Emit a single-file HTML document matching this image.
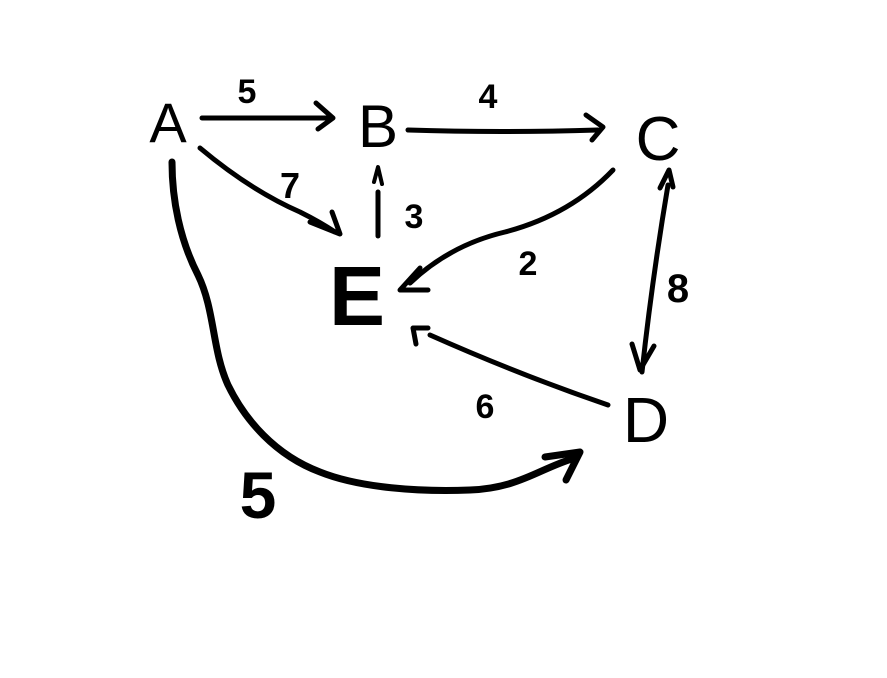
<!DOCTYPE html>
<html><head><meta charset="utf-8"><style>
html,body{margin:0;padding:0;background:#fff;}
svg{display:block}
text{font-family:"Liberation Sans",sans-serif;fill:#000}
</style></head><body>
<svg width="887" height="678" viewBox="0 0 887 678">
<g fill="none" stroke="#000" stroke-width="5" stroke-linecap="round" stroke-linejoin="round">
 <g><path d="M202,118 L330,118"/><path d="M316,103 L333,118 L318,129"/></g>
 <g><path d="M408,130 Q500,133 598,130"/><path d="M586,115 L603,127 L592,140"/></g>
 <g><path d="M200,148 Q250,190 300,212 Q320,222 335,232"/><path d="M310,222 L340,234 L332,212"/></g>
 <g><path d="M378,236 L378,192"/><path d="M374,182 L378,167 L382,184" stroke-width="4"/></g>
 <g><path d="M613,170 Q570,215 505,232 Q450,245 410,283"/><path d="M420,268 L400,290 L428,290"/></g>
 <g><path d="M668,185 Q652,280 642,372"/><path d="M660,188 L669,170 L673,187"/><path d="M632,344 L640,370 L654,346"/></g>
 <g><path d="M608,405 Q520,375 430,335"/><path d="M428,328 L413,328 L416,344"/></g>
 <g stroke-width="7"><path d="M172,162 C172,200 180,240 198,275 C215,310 212,350 228,385 C245,420 275,455 320,472 C360,488 420,492 470,490 C520,488 540,468 575,458"/><path d="M545,457 L580,452 L566,480"/></g>
</g>
<g>
 <text x="168" y="142" font-size="56" text-anchor="middle">A</text>
 <text x="378" y="147" font-size="60" text-anchor="middle">B</text>
 <text x="658" y="160" font-size="62" text-anchor="middle">C</text>
 <text x="357" y="325" font-size="84" font-weight="bold" text-anchor="middle">E</text>
 <text x="646" y="442" font-size="64" text-anchor="middle">D</text>
</g>
<g font-weight="bold">
 <text x="247" y="103" font-size="34" text-anchor="middle">5</text>
 <text x="488" y="108" font-size="34" text-anchor="middle">4</text>
 <text x="290" y="198" font-size="36" text-anchor="middle">7</text>
 <text x="414" y="228" font-size="34" text-anchor="middle">3</text>
 <text x="528" y="275" font-size="34" text-anchor="middle">2</text>
 <text x="678" y="302" font-size="40" text-anchor="middle">8</text>
 <text x="485" y="418" font-size="34" text-anchor="middle">6</text>
 <text x="258" y="518" font-size="66" text-anchor="middle">5</text>
</g>
</svg>
</body></html>
